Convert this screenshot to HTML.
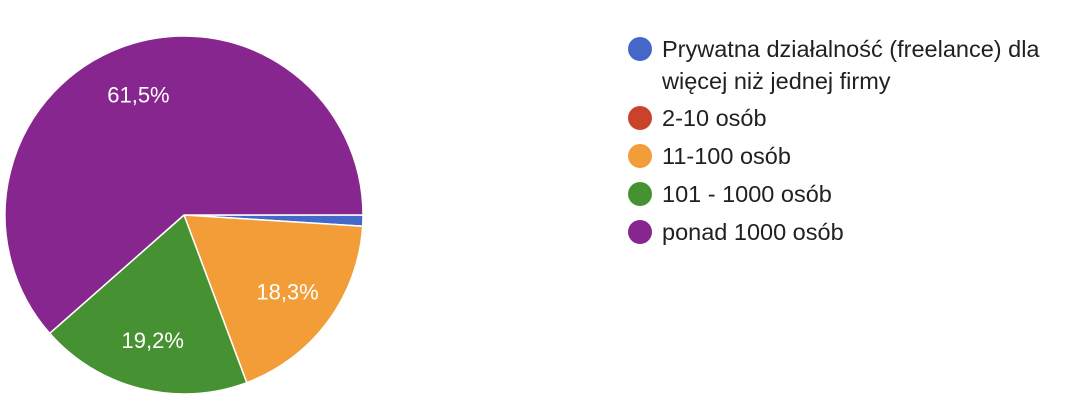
<!DOCTYPE html>
<html><head><meta charset="utf-8"><style>
body{margin:0;background:#fff;width:1066px;height:410px;overflow:hidden;font-family:"Liberation Sans",Arial,sans-serif}
</style></head><body>
<svg id="chart" width="1066" height="410" xmlns="http://www.w3.org/2000/svg"></svg>
<script>
const categories=["Prywatna działalność (freelance) dla|więcej niż jednej firmy","2-10 osób","11-100 osób","101 - 1000 osób","ponad 1000 osób"];
const values=[1.0,0.0,18.3,19.2,61.5];
const labels=["","","18,3%","19,2%","61,5%"];
const colors=["#4468c9","#c9432a","#f29d38","#469232","#88268f"];
const svg=document.getElementById('chart');
const NS="http://www.w3.org/2000/svg";
const cx=184,cy=215,r=179;
const total=values.reduce((a,b)=>a+b,0);
let a0=0;
values.forEach((v,i)=>{
  const a1=a0+v/total*2*Math.PI;
  if(v>0){
    const p=document.createElementNS(NS,'path');
    const x0=cx+r*Math.cos(a0),y0=cy+r*Math.sin(a0),x1=cx+r*Math.cos(a1),y1=cy+r*Math.sin(a1);
    p.setAttribute('d',`M${cx},${cy}L${x0},${y0}A${r},${r} 0 ${a1-a0>Math.PI?1:0} 1 ${x1},${y1}Z`);
    p.setAttribute('fill',colors[i]);p.setAttribute('stroke','#fff');p.setAttribute('stroke-width','1.5');
    
    
    svg.appendChild(p);
    if(labels[i]){
      const m=(a0+a1)/2,lr=r*0.72;
      const t=document.createElementNS(NS,'text');
      t.setAttribute('x',cx+lr*Math.cos(m));t.setAttribute('y',cy+lr*Math.sin(m)+8);
      t.setAttribute('text-anchor','middle');t.setAttribute('fill','#fff');t.setAttribute('font-size','22');
      t.textContent=labels[i];
      
      
      svg.appendChild(t);
    }
  }
  a0=a1;
});
const rowsY=[49,118,156,194,232];
categories.forEach((c,i)=>{
  const g=document.createElementNS(NS,'g');
  
  
  const ci=document.createElementNS(NS,'circle');
  ci.setAttribute('cx',640);ci.setAttribute('cy',rowsY[i]);ci.setAttribute('r',12);ci.setAttribute('fill',colors[i]);
  g.appendChild(ci);
  c.split('|').forEach((line,j)=>{
    const t=document.createElementNS(NS,'text');
    t.setAttribute('x',662);t.setAttribute('y',rowsY[i]+8+j*32);
    t.setAttribute('font-size','23.5');t.setAttribute('fill','#212121');
    t.textContent=line;g.appendChild(t);
  });
  svg.appendChild(g);
});
</script>
</body></html>
